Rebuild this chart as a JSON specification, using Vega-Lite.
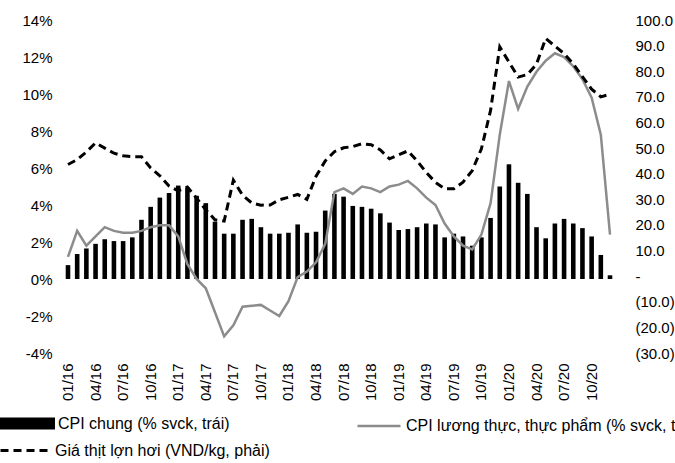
{
  "$schema": "https://vega.github.io/schema/vega-lite/v6.json",
  "autosize": {"type": "none"},
  "width": 558,
  "height": 333,
  "padding": {"left": 60, "top": 20, "right": 57, "bottom": 110},
  "background": "#ffffff",
  "config": {
    "view": {"stroke": null},
    "font": "Liberation Sans",
    "axis": {"grid": false, "domain": false, "ticks": false, "tickSize": 0, "labelOverlap": false, "labelFont": "Liberation Sans", "labelFontSize": 15, "labelColor": "#000000", "title": null},
    "legend": {"labelFont": "Liberation Sans", "labelFontSize": 16, "labelColor": "#000000", "labelLimit": 1000, "padding": 0, "title": null}
  },
  "data": {"values": [
    {"m": "01/16", "cpi": 0.75, "food": 1.2, "pork": 43.6},
    {"m": "02/16", "cpi": 1.35, "food": 2.6, "pork": 45.5},
    {"m": "03/16", "cpi": 1.65, "food": 1.8, "pork": 48.5},
    {"m": "04/16", "cpi": 1.9, "food": 2.3, "pork": 52},
    {"m": "05/16", "cpi": 2.15, "food": 2.8, "pork": 50},
    {"m": "06/16", "cpi": 2.05, "food": 2.6, "pork": 48},
    {"m": "07/16", "cpi": 2.05, "food": 2.5, "pork": 47},
    {"m": "08/16", "cpi": 2.25, "food": 2.5, "pork": 46.6},
    {"m": "09/16", "cpi": 3.2, "food": 2.6, "pork": 46.6},
    {"m": "10/16", "cpi": 3.9, "food": 2.8, "pork": 42.2},
    {"m": "11/16", "cpi": 4.4, "food": 2.9, "pork": 39.2},
    {"m": "12/16", "cpi": 4.65, "food": 2.9, "pork": 35.2},
    {"m": "01/17", "cpi": 5.05, "food": 2.3, "pork": 33.3},
    {"m": "02/17", "cpi": 4.95, "food": 0.8, "pork": 34.8},
    {"m": "03/17", "cpi": 4.5, "food": 0.0, "pork": 30.4},
    {"m": "04/17", "cpi": 4.1, "food": -0.5, "pork": 25.9},
    {"m": "05/17", "cpi": 3.1, "food": -1.8, "pork": 22},
    {"m": "06/17", "cpi": 2.45, "food": -3.1, "pork": 21.5},
    {"m": "07/17", "cpi": 2.45, "food": -2.5, "pork": 37.5},
    {"m": "08/17", "cpi": 3.2, "food": -1.5, "pork": 31.6},
    {"m": "09/17", "cpi": 3.25, "food": -1.45, "pork": 28.6},
    {"m": "10/17", "cpi": 2.8, "food": -1.4, "pork": 27.7},
    {"m": "11/17", "cpi": 2.45, "food": -1.7, "pork": 27.8},
    {"m": "12/17", "cpi": 2.45, "food": -2.0, "pork": 29.8},
    {"m": "01/18", "cpi": 2.5, "food": -1.2, "pork": 30.8},
    {"m": "02/18", "cpi": 2.95, "food": 0.1, "pork": 31.9},
    {"m": "03/18", "cpi": 2.5, "food": 0.4, "pork": 30},
    {"m": "04/18", "cpi": 2.55, "food": 0.9, "pork": 39},
    {"m": "05/18", "cpi": 3.7, "food": 1.9, "pork": 45},
    {"m": "06/18", "cpi": 4.6, "food": 4.7, "pork": 48.6},
    {"m": "07/18", "cpi": 4.45, "food": 4.9, "pork": 50.1},
    {"m": "08/18", "cpi": 3.95, "food": 4.6, "pork": 50.6},
    {"m": "09/18", "cpi": 3.9, "food": 5.0, "pork": 51.7},
    {"m": "10/18", "cpi": 3.8, "food": 4.9, "pork": 51.3},
    {"m": "11/18", "cpi": 3.55, "food": 4.7, "pork": 49.3},
    {"m": "12/18", "cpi": 3.05, "food": 5.0, "pork": 45.8},
    {"m": "01/19", "cpi": 2.65, "food": 5.1, "pork": 47.4},
    {"m": "02/19", "cpi": 2.7, "food": 5.3, "pork": 48.9},
    {"m": "03/19", "cpi": 2.8, "food": 4.9, "pork": 45},
    {"m": "04/19", "cpi": 3.0, "food": 4.4, "pork": 40.5},
    {"m": "05/19", "cpi": 2.95, "food": 4.0, "pork": 36.6},
    {"m": "06/19", "cpi": 2.25, "food": 3.0, "pork": 34.1},
    {"m": "07/19", "cpi": 2.45, "food": 2.3, "pork": 34.1},
    {"m": "08/19", "cpi": 2.3, "food": 1.8, "pork": 36.7},
    {"m": "09/19", "cpi": 1.8, "food": 1.6, "pork": 41.2},
    {"m": "10/19", "cpi": 2.25, "food": 2.4, "pork": 49.7},
    {"m": "11/19", "cpi": 3.3, "food": 4.1, "pork": 64.7},
    {"m": "12/19", "cpi": 5.0, "food": 7.8, "pork": 89.5},
    {"m": "01/20", "cpi": 6.2, "food": 10.7, "pork": 83.6},
    {"m": "02/20", "cpi": 5.2, "food": 9.2, "pork": 77.7},
    {"m": "03/20", "cpi": 4.6, "food": 10.4, "pork": 78.7},
    {"m": "04/20", "cpi": 2.8, "food": 11.2, "pork": 82.8},
    {"m": "05/20", "cpi": 2.2, "food": 11.8, "pork": 92.8},
    {"m": "06/20", "cpi": 3.0, "food": 12.2, "pork": 89.8},
    {"m": "07/20", "cpi": 3.25, "food": 12.0, "pork": 86.9},
    {"m": "08/20", "cpi": 3.0, "food": 11.5, "pork": 82.9},
    {"m": "09/20", "cpi": 2.75, "food": 10.8, "pork": 77.9},
    {"m": "10/20", "cpi": 2.3, "food": 9.8, "pork": 73},
    {"m": "11/20", "cpi": 1.3, "food": 7.8, "pork": 70},
    {"m": "12/20", "cpi": 0.2, "food": 2.4, "pork": 71}
  ]},
  "encoding": {
    "x": {
      "field": "m", "type": "ordinal", "sort": null,
      "scale": {"paddingInner": 0.5, "paddingOuter": 0.62},
      "axis": {
        "values": ["01/16","04/16","07/16","10/16","01/17","04/17","07/17","10/17","01/18","04/18","07/18","10/18","01/19","04/19","07/19","10/19","01/20","04/20","07/20","10/20"],
        "labelAngle": -90, "labelPadding": 10, "labelFontSize": 15
      }
    }
  },
  "layer": [
    {
      "mark": {"type": "bar"},
      "encoding": {
        "y": {"field": "cpi", "type": "quantitative",
          "scale": {"domain": [-4, 14], "nice": false, "zero": false},
          "axis": {"orient": "left", "values": [-4,-2,0,2,4,6,8,10,12,14], "labelExpr": "datum.value + '%'", "labelPadding": 8, "labelOverlap": false, "title": null}},
        "fill": {"datum": "CPI chung (% svck, trái)", "type": "nominal",
          "scale": {"range": ["#000000"]},
          "legend": {"orient": "none", "legendX": -60, "legendY": 376, "symbolType": "M-1,-0.22H1V0.22H-1Z", "symbolSize": 3025, "symbolStrokeWidth": 0, "symbolFillColor": "#000000", "labelOffset": 3}}
      }
    },
    {
      "mark": {"type": "line", "strokeWidth": 2.5, "interpolate": "linear"},
      "encoding": {
        "y": {"field": "food", "type": "quantitative",
          "scale": {"domain": [-4, 14], "nice": false, "zero": false},
          "axis": null},
        "stroke": {"datum": "CPI lương thực, thực phẩm (% svck, trái)", "type": "nominal",
          "scale": {"range": ["#8c8c8c"]},
          "legend": {"orient": "none", "legendX": 296, "legendY": 383, "symbolType": "M-1,0H1", "symbolSize": 1849, "symbolStrokeWidth": 2.5, "symbolStrokeColor": "#8c8c8c", "labelOffset": 4}}
      }
    },
    {
      "mark": {"type": "line", "stroke": "#000000", "strokeWidth": 3},
      "encoding": {
        "y": {"field": "pork", "type": "quantitative",
          "scale": {"domain": [-30, 100], "nice": false, "zero": false},
          "axis": {"orient": "right", "values": [-30,-20,-10,0,10,20,30,40,50,60,70,80,90,100],
            "labelExpr": "datum.value == 0 ? '-' : (datum.value < 0 ? '(' + format(-datum.value, '.1f') + ')' : format(datum.value, '.1f'))",
            "labelPadding": 17, "labelOverlap": false, "title": null}},
        "strokeDash": {"datum": "Giá thịt lợn hơi (VND/kg, phải)", "type": "nominal",
          "scale": {"range": [[8, 5]]},
          "legend": {"orient": "none", "legendX": -61, "legendY": 404, "symbolType": "M-1,0H1", "symbolSize": 2500, "symbolStrokeWidth": 3, "symbolStrokeColor": "#000000", "symbolDash": [13, 5], "labelOffset": 3}}
      }
    }
  ],
  "resolve": {"scale": {"y": "independent"}, "axis": {"y": "independent"}}
}
